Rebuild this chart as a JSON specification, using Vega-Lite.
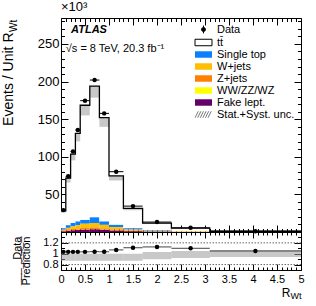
{
  "$schema": "https://vega.github.io/schema/vega-lite/v6.json",
  "padding": {"left": 0, "top": 0, "right": 2, "bottom": 2},
  "spacing": 0,
  "bounds": "flush",
  "config": {
    "font": "Liberation Sans",
    "view": {"stroke": "black", "strokeWidth": 1},
    "axis": {"grid": false, "domain": false, "tickColor": "black", "tickWidth": 1, "labelColor": "black", "titleColor": "black", "titleFontWeight": "normal", "labelFlush": false, "labelOverlap": false, "labelBound": false, "minExtent": 0}
  },
  "datasets": {
    "bkg": [
      {"lo": 0, "hi": 0.1, "proc": "tt\u0304", "k": 6, "v": 23},
      {"lo": 0, "hi": 0.1, "proc": "Single top", "k": 5, "v": 2},
      {"lo": 0, "hi": 0.1, "proc": "W+jets", "k": 4, "v": 1.4},
      {"lo": 0, "hi": 0.1, "proc": "Z+jets", "k": 3, "v": 0.7},
      {"lo": 0, "hi": 0.1, "proc": "WW/ZZ/WZ", "k": 2, "v": 0.1},
      {"lo": 0, "hi": 0.1, "proc": "Fake lept.", "k": 1, "v": 0.8},
      {"lo": 0.1, "hi": 0.2, "proc": "tt\u0304", "k": 6, "v": 62.5},
      {"lo": 0.1, "hi": 0.2, "proc": "Single top", "k": 5, "v": 3.5},
      {"lo": 0.1, "hi": 0.2, "proc": "W+jets", "k": 4, "v": 2.7},
      {"lo": 0.1, "hi": 0.2, "proc": "Z+jets", "k": 3, "v": 1.1},
      {"lo": 0.1, "hi": 0.2, "proc": "WW/ZZ/WZ", "k": 2, "v": 0.2},
      {"lo": 0.1, "hi": 0.2, "proc": "Fake lept.", "k": 1, "v": 1.5},
      {"lo": 0.2, "hi": 0.3, "proc": "tt\u0304", "k": 6, "v": 91.5},
      {"lo": 0.2, "hi": 0.3, "proc": "Single top", "k": 5, "v": 4.5},
      {"lo": 0.2, "hi": 0.3, "proc": "W+jets", "k": 4, "v": 3.7},
      {"lo": 0.2, "hi": 0.3, "proc": "Z+jets", "k": 3, "v": 1.4},
      {"lo": 0.2, "hi": 0.3, "proc": "WW/ZZ/WZ", "k": 2, "v": 0.2},
      {"lo": 0.2, "hi": 0.3, "proc": "Fake lept.", "k": 1, "v": 2.2},
      {"lo": 0.3, "hi": 0.4, "proc": "tt\u0304", "k": 6, "v": 117},
      {"lo": 0.3, "hi": 0.4, "proc": "Single top", "k": 5, "v": 5},
      {"lo": 0.3, "hi": 0.4, "proc": "W+jets", "k": 4, "v": 4.5},
      {"lo": 0.3, "hi": 0.4, "proc": "Z+jets", "k": 3, "v": 1.6},
      {"lo": 0.3, "hi": 0.4, "proc": "WW/ZZ/WZ", "k": 2, "v": 0.3},
      {"lo": 0.3, "hi": 0.4, "proc": "Fake lept.", "k": 1, "v": 2.6},
      {"lo": 0.4, "hi": 0.6, "proc": "tt\u0304", "k": 6, "v": 152.5},
      {"lo": 0.4, "hi": 0.6, "proc": "Single top", "k": 5, "v": 5},
      {"lo": 0.4, "hi": 0.6, "proc": "W+jets", "k": 4, "v": 5.8},
      {"lo": 0.4, "hi": 0.6, "proc": "Z+jets", "k": 3, "v": 1.9},
      {"lo": 0.4, "hi": 0.6, "proc": "WW/ZZ/WZ", "k": 2, "v": 0.3},
      {"lo": 0.4, "hi": 0.6, "proc": "Fake lept.", "k": 1, "v": 3.0},
      {"lo": 0.6, "hi": 0.8, "proc": "tt\u0304", "k": 6, "v": 174.5},
      {"lo": 0.6, "hi": 0.8, "proc": "Single top", "k": 5, "v": 7.5},
      {"lo": 0.6, "hi": 0.8, "proc": "W+jets", "k": 4, "v": 6.0},
      {"lo": 0.6, "hi": 0.8, "proc": "Z+jets", "k": 3, "v": 2.2},
      {"lo": 0.6, "hi": 0.8, "proc": "WW/ZZ/WZ", "k": 2, "v": 0.3},
      {"lo": 0.6, "hi": 0.8, "proc": "Fake lept.", "k": 1, "v": 3.5},
      {"lo": 0.8, "hi": 1.0, "proc": "tt\u0304", "k": 6, "v": 138},
      {"lo": 0.8, "hi": 1.0, "proc": "Single top", "k": 5, "v": 4.5},
      {"lo": 0.8, "hi": 1.0, "proc": "W+jets", "k": 4, "v": 4.7},
      {"lo": 0.8, "hi": 1.0, "proc": "Z+jets", "k": 3, "v": 1.7},
      {"lo": 0.8, "hi": 1.0, "proc": "WW/ZZ/WZ", "k": 2, "v": 0.3},
      {"lo": 0.8, "hi": 1.0, "proc": "Fake lept.", "k": 1, "v": 2.8},
      {"lo": 1.0, "hi": 1.3, "proc": "tt\u0304", "k": 6, "v": 65},
      {"lo": 1.0, "hi": 1.3, "proc": "Single top", "k": 5, "v": 3},
      {"lo": 1.0, "hi": 1.3, "proc": "W+jets", "k": 4, "v": 3.3},
      {"lo": 1.0, "hi": 1.3, "proc": "Z+jets", "k": 3, "v": 1.2},
      {"lo": 1.0, "hi": 1.3, "proc": "WW/ZZ/WZ", "k": 2, "v": 0.2},
      {"lo": 1.0, "hi": 1.3, "proc": "Fake lept.", "k": 1, "v": 1.8},
      {"lo": 1.3, "hi": 1.7, "proc": "tt\u0304", "k": 6, "v": 26.5},
      {"lo": 1.3, "hi": 1.7, "proc": "Single top", "k": 5, "v": 1.6},
      {"lo": 1.3, "hi": 1.7, "proc": "W+jets", "k": 4, "v": 1.7},
      {"lo": 1.3, "hi": 1.7, "proc": "Z+jets", "k": 3, "v": 0.7},
      {"lo": 1.3, "hi": 1.7, "proc": "WW/ZZ/WZ", "k": 2, "v": 0.1},
      {"lo": 1.3, "hi": 1.7, "proc": "Fake lept.", "k": 1, "v": 0.9},
      {"lo": 1.7, "hi": 2.3, "proc": "tt\u0304", "k": 6, "v": 9.8},
      {"lo": 1.7, "hi": 2.3, "proc": "Single top", "k": 5, "v": 0.7},
      {"lo": 1.7, "hi": 2.3, "proc": "W+jets", "k": 4, "v": 0.6},
      {"lo": 1.7, "hi": 2.3, "proc": "Z+jets", "k": 3, "v": 0.3},
      {"lo": 1.7, "hi": 2.3, "proc": "WW/ZZ/WZ", "k": 2, "v": 0.05},
      {"lo": 1.7, "hi": 2.3, "proc": "Fake lept.", "k": 1, "v": 0.35},
      {"lo": 2.3, "hi": 3.1, "proc": "tt\u0304", "k": 6, "v": 4.3},
      {"lo": 2.3, "hi": 3.1, "proc": "Single top", "k": 5, "v": 0.3},
      {"lo": 2.3, "hi": 3.1, "proc": "W+jets", "k": 4, "v": 0.25},
      {"lo": 2.3, "hi": 3.1, "proc": "Z+jets", "k": 3, "v": 0.11},
      {"lo": 2.3, "hi": 3.1, "proc": "WW/ZZ/WZ", "k": 2, "v": 0.02},
      {"lo": 2.3, "hi": 3.1, "proc": "Fake lept.", "k": 1, "v": 0.12},
      {"lo": 3.1, "hi": 5.0, "proc": "tt\u0304", "k": 6, "v": 0.8},
      {"lo": 3.1, "hi": 5.0, "proc": "Single top", "k": 5, "v": 0.08},
      {"lo": 3.1, "hi": 5.0, "proc": "W+jets", "k": 4, "v": 0.05},
      {"lo": 3.1, "hi": 5.0, "proc": "Z+jets", "k": 3, "v": 0.03},
      {"lo": 3.1, "hi": 5.0, "proc": "WW/ZZ/WZ", "k": 2, "v": 0.01},
      {"lo": 3.1, "hi": 5.0, "proc": "Fake lept.", "k": 1, "v": 0.03}
    ],
    "bins": [
      {"lo": 0, "hi": 0.1, "c": 0.05, "d": 29.1, "p": 28, "bl": 25.8, "r": 1.034, "rl": 0.87, "rh": 1.0},
      {"lo": 0.1, "hi": 0.2, "c": 0.15, "d": 74, "p": 71.5, "bl": 65.8, "r": 1.034, "rl": 0.87, "rh": 1.0},
      {"lo": 0.2, "hi": 0.3, "c": 0.25, "d": 107, "p": 103.5, "bl": 95.2, "r": 1.034, "rl": 0.87, "rh": 1.0},
      {"lo": 0.3, "hi": 0.4, "c": 0.35, "d": 135.5, "p": 131, "bl": 120.5, "r": 1.034, "rl": 0.87, "rh": 1.0},
      {"lo": 0.4, "hi": 0.6, "c": 0.5, "d": 174.6, "p": 168.5, "bl": 155, "r": 1.034, "rl": 0.87, "rh": 1.0},
      {"lo": 0.6, "hi": 0.8, "c": 0.7, "d": 202, "p": 194, "bl": 178.5, "r": 1.038, "rl": 0.87, "rh": 1.0},
      {"lo": 0.8, "hi": 1.0, "c": 0.9, "d": 157.7, "p": 152, "bl": 139.8, "r": 1.036, "rl": 0.87, "rh": 1.0},
      {"lo": 1.0, "hi": 1.3, "c": 1.15, "d": 80.2, "p": 74.5, "bl": 68.5, "r": 1.07, "rl": 0.87, "rh": 1.0},
      {"lo": 1.3, "hi": 1.7, "c": 1.5, "d": 34.4, "p": 31.5, "bl": 29, "r": 1.11, "rl": 0.87, "rh": 1.0},
      {"lo": 1.7, "hi": 2.3, "c": 2.0, "d": 13.2, "p": 11.8, "bl": 10.9, "r": 1.125, "rl": 0.9, "rh": 1.03},
      {"lo": 2.3, "hi": 3.1, "c": 2.7, "d": 5.6, "p": 5.1, "bl": 4.7, "r": 1.1, "rl": 0.92, "rh": 1.05},
      {"lo": 3.1, "hi": 5.0, "c": 4.05, "d": 1.05, "p": 1.0, "bl": 0.92, "r": 1.05, "rl": 0.94, "rh": 1.07}
    ],
    "outline": [
      {"x": 0, "p": 28}, {"x": 0.1, "p": 71.5}, {"x": 0.2, "p": 103.5}, {"x": 0.3, "p": 131},
      {"x": 0.4, "p": 168.5}, {"x": 0.6, "p": 194}, {"x": 0.8, "p": 152}, {"x": 1.0, "p": 74.5},
      {"x": 1.3, "p": 31.5}, {"x": 1.7, "p": 11.8}, {"x": 2.3, "p": 5.1}, {"x": 3.1, "p": 1.0}, {"x": 5.0, "p": 1.0}
    ],
    "reflines": [{"g": 0.8}, {"g": 1.2}]
  },
  "vconcat": [
    {
      "width": 240,
      "height": 214,
      "title": {"text": "\u00d710\u00b3", "anchor": "start", "frame": "group", "fontSize": 13, "fontWeight": "normal", "offset": 1, "color": "black"},
      "layer": [
        {
          "data": {"name": "bkg"},
          "transform": [{"stack": "v", "groupby": ["lo"], "sort": [{"field": "k", "order": "ascending"}], "as": ["y0", "y1"]}],
          "mark": {"type": "bar", "strokeWidth": 0},
          "encoding": {
            "x": {"field": "lo", "type": "quantitative", "scale": {"domain": [0, 5], "nice": false, "zero": false},
              "axis": {"orient": "bottom", "labels": false, "title": null,
                "values": [0,0.1,0.2,0.3,0.4,0.5,0.6,0.7,0.8,0.9,1,1.1,1.2,1.3,1.4,1.5,1.6,1.7,1.8,1.9,2,2.1,2.2,2.3,2.4,2.5,2.6,2.7,2.8,2.9,3,3.1,3.2,3.3,3.4,3.5,3.6,3.7,3.8,3.9,4,4.1,4.2,4.3,4.4,4.5,4.6,4.7,4.8,4.9,5],
                "tickSize": {"condition": {"test": "round(datum.value*10) % 5 === 0", "value": -7}, "value": -3.5}}},
            "x2": {"field": "hi"},
            "y": {"field": "y0", "type": "quantitative", "scale": {"domain": [0, 284.5], "nice": false},
              "axis": {"orient": "left", "title": "Events / Unit R", "titleFontSize": 14, "titleAngle": 270, "titleAlign": "right", "titleBaseline": "top", "titleX": -60, "titleY": 14,
                "values": [0,10,20,30,40,50,60,70,80,90,100,110,120,130,140,150,160,170,180,190,200,210,220,230,240,250,260,270,280],
                "labelExpr": "datum.value % 50 === 0 && datum.value > 0 ? datum.label : ''",
                "labelFontSize": 13, "labelPadding": 9,
                "tickSize": {"condition": {"test": "datum.value % 50 === 0", "value": -7}, "value": -3.5}}},
            "y2": {"field": "y1"},
            "color": {"field": "proc", "type": "nominal",
              "scale": {"domain": ["Data", "tt\u0304", "Single top", "W+jets", "Z+jets", "WW/ZZ/WZ", "Fake lept.", "Stat.+Syst. unc."],
                        "range": ["black", "white", "#0a80ff", "#ffbe00", "#ff7f00", "#ffff00", "#660066", "transparent"]},
              "legend": {"orient": "none", "legendX": 137, "legendY": 6, "title": null, "padding": 0,
                "labelFontSize": 11, "labelColor": "black", "labelOffset": 8, "rowPadding": 0, "labelLimit": 200,
                "symbolSize": 42, "symbolStrokeWidth": 1, "symbolOpacity": 1,
                "encode": {"symbols": {"update": {
                  "shape": {"signal": "datum.value === 'Data' ? 'M0,-1.2V1.2M-0.62,0A0.62,0.62 0 1,1 0.62,0A0.62,0.62 0 1,1 -0.62,0Z' : datum.value === 'Stat.+Syst. unc.' ? 'M-2.6,1L-1.6,-1M-1.8,1L-0.8,-1M-1,1L0,-1M-0.2,1L0.8,-1M0.6,1L1.6,-1M1.4,1L2.4,-1' : 'M-2.62,-1H2.62V1H-2.62Z'"},
                  "stroke": {"signal": "datum.value === 'Data' || datum.value === 'tt\u0304' ? 'black' : datum.value === 'Stat.+Syst. unc.' ? '#777777' : 'transparent'"},
                  "strokeWidth": {"value": 1}
                }}}}}
          }
        },
        {
          "data": {"name": "bins"},
          "mark": {"type": "bar", "fill": "#9a9a9a", "opacity": 0.55, "strokeWidth": 0},
          "encoding": {
            "x": {"field": "lo", "type": "quantitative", "scale": {"domain": [0, 5], "nice": false, "zero": false}, "axis": null},
            "x2": {"field": "hi"},
            "y": {"field": "bl", "type": "quantitative", "scale": {"domain": [0, 284.5], "nice": false}, "axis": null},
            "y2": {"field": "p"}
          }
        },
        {
          "data": {"name": "outline"},
          "mark": {"type": "line", "interpolate": "step-after", "color": "black", "strokeWidth": 1.3},
          "encoding": {
            "x": {"field": "x", "type": "quantitative", "scale": {"domain": [0, 5], "nice": false, "zero": false}, "axis": null},
            "y": {"field": "p", "type": "quantitative", "scale": {"domain": [0, 284.5], "nice": false}, "axis": null}
          }
        },
        {
          "data": {"name": "bins"},
          "mark": {"type": "rule", "color": "black", "strokeWidth": 1},
          "encoding": {
            "x": {"field": "lo", "type": "quantitative", "scale": {"domain": [0, 5], "nice": false, "zero": false}, "axis": null},
            "x2": {"field": "hi"},
            "y": {"field": "d", "type": "quantitative", "scale": {"domain": [0, 284.5], "nice": false}, "axis": null}
          }
        },
        {
          "data": {"name": "bins"},
          "mark": {"type": "circle", "size": 20, "color": "black", "opacity": 1},
          "encoding": {
            "x": {"field": "c", "type": "quantitative", "scale": {"domain": [0, 5], "nice": false, "zero": false},
              "axis": {"orient": "top", "labels": false, "title": null,
                "values": [0,0.1,0.2,0.3,0.4,0.5,0.6,0.7,0.8,0.9,1,1.1,1.2,1.3,1.4,1.5,1.6,1.7,1.8,1.9,2,2.1,2.2,2.3,2.4,2.5,2.6,2.7,2.8,2.9,3,3.1,3.2,3.3,3.4,3.5,3.6,3.7,3.8,3.9,4,4.1,4.2,4.3,4.4,4.5,4.6,4.7,4.8,4.9,5],
                "tickSize": {"condition": {"test": "round(datum.value*10) % 5 === 0", "value": -7}, "value": -3.5}}},
            "y": {"field": "d", "type": "quantitative", "scale": {"domain": [0, 284.5], "nice": false},
              "axis": {"orient": "right", "labels": false, "title": null,
                "values": [0,10,20,30,40,50,60,70,80,90,100,110,120,130,140,150,160,170,180,190,200,210,220,230,240,250,260,270,280],
                "tickSize": {"condition": {"test": "datum.value % 50 === 0", "value": -7}, "value": -3.5}}}
          }
        },
        {
          "data": {"values": [{}]},
          "mark": {"type": "text", "text": "ATLAS", "fontSize": 11, "fontWeight": "bold", "fontStyle": "italic", "align": "left", "baseline": "alphabetic", "color": "black"},
          "encoding": {
            "x": {"datum": 0.21, "type": "quantitative", "scale": {"domain": [0, 5], "nice": false, "zero": false}, "axis": null},
            "y": {"datum": 264, "type": "quantitative", "scale": {"domain": [0, 284.5], "nice": false}, "axis": null}
          }
        },
        {
          "data": {"values": [{}]},
          "mark": {"type": "text", "text": "\u221as = 8 TeV, 20.3 fb\u207b\u00b9", "fontSize": 11, "align": "left", "baseline": "alphabetic", "color": "black"},
          "encoding": {
            "x": {"datum": 0.1, "type": "quantitative", "scale": {"domain": [0, 5], "nice": false, "zero": false}, "axis": null},
            "y": {"datum": 239, "type": "quantitative", "scale": {"domain": [0, 284.5], "nice": false}, "axis": null}
          }
        },
        {
          "data": {"values": [{}]},
          "mark": {"type": "text", "text": "Wt", "fontSize": 10, "angle": 270, "align": "left", "baseline": "top", "color": "black"},
          "encoding": {
            "x": {"datum": -1.08, "type": "quantitative", "scale": {"domain": [0, 5], "nice": false, "zero": false}, "axis": null},
            "y": {"datum": 266, "type": "quantitative", "scale": {"domain": [0, 284.5], "nice": false}, "axis": null}
          }
        }
      ],
      "resolve": {"axis": {"x": "independent", "y": "independent"}}
    },
    {
      "width": 240,
      "height": 38,
      "layer": [
        {
          "data": {"name": "bins"},
          "mark": {"type": "bar", "fill": "#9a9a9a", "opacity": 0.55, "strokeWidth": 0},
          "encoding": {
            "x": {"field": "lo", "type": "quantitative", "scale": {"domain": [0, 5], "nice": false, "zero": false},
              "axis": {"orient": "bottom", "format": "~g", "labelFontSize": 11, "labelPadding": 9,
                "values": [0,0.1,0.2,0.3,0.4,0.5,0.6,0.7,0.8,0.9,1,1.1,1.2,1.3,1.4,1.5,1.6,1.7,1.8,1.9,2,2.1,2.2,2.3,2.4,2.5,2.6,2.7,2.8,2.9,3,3.1,3.2,3.3,3.4,3.5,3.6,3.7,3.8,3.9,4,4.1,4.2,4.3,4.4,4.5,4.6,4.7,4.8,4.9,5],
                "labelExpr": "round(datum.value*10) % 5 === 0 ? datum.label : ''",
                "tickSize": {"condition": {"test": "round(datum.value*10) % 5 === 0", "value": -6}, "value": -3},
                "title": "R", "titleFontSize": 12, "titleAlign": "right", "titleBaseline": "alphabetic", "titleX": 229, "titleY": 26}},
            "x2": {"field": "hi"},
            "y": {"field": "rl", "type": "quantitative", "scale": {"domain": [0.7, 1.4], "nice": false, "zero": false},
              "axis": {"orient": "left", "format": "~g", "labelFontSize": 11, "labelPadding": 10,
                "values": [0.7,0.8,0.9,1,1.1,1.2,1.3,1.4],
                "labelExpr": "round(datum.value*10) % 2 === 0 && datum.value > 0.75 && datum.value < 1.3 ? datum.label : ''",
                "tickSize": {"condition": {"test": "round(datum.value*10) % 2 === 0", "value": -7}, "value": -3.5},
                "title": ["Data", "P\u0305r\u0305e\u0305d\u0305i\u0305c\u0305t\u0305i\u0305o\u0305n\u0305"], "titleFontSize": 11, "titleLineHeight": 9.5, "titleAngle": 270, "titleAlign": "right", "titleBaseline": "top", "titleX": -50, "titleY": 4}},
            "y2": {"field": "rh"}
          }
        },
        {
          "data": {"name": "reflines"},
          "mark": {"type": "rule", "color": "#666666", "strokeWidth": 1, "strokeDash": [1.5, 1.5]},
          "encoding": {
            "y": {"field": "g", "type": "quantitative", "scale": {"domain": [0.7, 1.4], "nice": false, "zero": false}, "axis": null}
          }
        },
        {
          "data": {"name": "bins"},
          "mark": {"type": "rule", "color": "#444444", "strokeWidth": 1},
          "encoding": {
            "x": {"field": "lo", "type": "quantitative", "scale": {"domain": [0, 5], "nice": false, "zero": false}, "axis": null},
            "x2": {"field": "hi"},
            "y": {"field": "r", "type": "quantitative", "scale": {"domain": [0.7, 1.4], "nice": false, "zero": false}, "axis": null}
          }
        },
        {
          "data": {"name": "bins"},
          "mark": {"type": "circle", "size": 20, "color": "black", "opacity": 1},
          "encoding": {
            "x": {"field": "c", "type": "quantitative", "scale": {"domain": [0, 5], "nice": false, "zero": false},
              "axis": {"orient": "top", "labels": false, "title": null,
                "values": [0,0.1,0.2,0.3,0.4,0.5,0.6,0.7,0.8,0.9,1,1.1,1.2,1.3,1.4,1.5,1.6,1.7,1.8,1.9,2,2.1,2.2,2.3,2.4,2.5,2.6,2.7,2.8,2.9,3,3.1,3.2,3.3,3.4,3.5,3.6,3.7,3.8,3.9,4,4.1,4.2,4.3,4.4,4.5,4.6,4.7,4.8,4.9,5],
                "tickSize": {"condition": {"test": "round(datum.value*10) % 5 === 0", "value": -6}, "value": -3}}},
            "y": {"field": "r", "type": "quantitative", "scale": {"domain": [0.7, 1.4], "nice": false, "zero": false},
              "axis": {"orient": "right", "labels": false, "title": null,
                "values": [0.7,0.8,0.9,1,1.1,1.2,1.3,1.4],
                "tickSize": {"condition": {"test": "round(datum.value*10) % 2 === 0", "value": -7}, "value": -3.5}}}
          }
        },
        {
          "data": {"values": [{}]},
          "mark": {"type": "text", "text": "Wt", "fontSize": 9, "align": "left", "baseline": "alphabetic", "color": "black"},
          "encoding": {
            "x": {"datum": 4.78, "type": "quantitative", "scale": {"domain": [0, 5], "nice": false, "zero": false}, "axis": null},
            "y": {"datum": 0.16, "type": "quantitative", "scale": {"domain": [0.7, 1.4], "nice": false, "zero": false}, "axis": null}
          }
        }
      ],
      "resolve": {"axis": {"x": "independent", "y": "independent"}}
    }
  ]
}
